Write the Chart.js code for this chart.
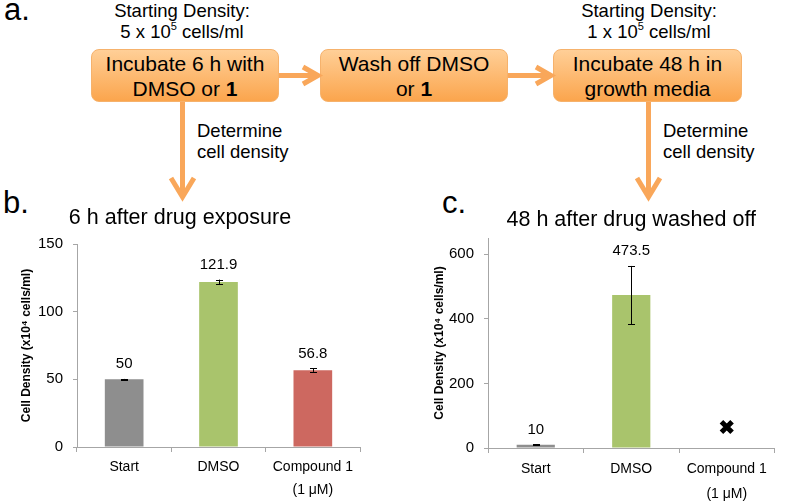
<!DOCTYPE html>
<html>
<head>
<meta charset="utf-8">
<script src="https://cdn.jsdelivr.net/npm/chart.js"></script>
<style>
    body { margin: 0; background: #fff; }
    #page { position: relative; width: 787px; height: 503px; overflow: hidden; font-family: 'Liberation Sans', Arial, sans-serif; color: #000; }
    .panel { position: absolute; font-size: 31px; line-height: 31px; }
    .note { position: absolute; font-size: 18.5px; line-height: 21px; white-space: nowrap; }
    .center { text-align: center; transform: translateX(-50%); }
    .box {
        position: absolute; top: 49px; height: 53px; box-sizing: border-box;
        border: 1px solid #f6b26c; border-radius: 8px;
        background: linear-gradient(#ffcf97, #fba54d);
        display: flex; align-items: center; justify-content: center; text-align: center;
        font-size: 21px; line-height: 25px; white-space: nowrap;
    }
    sup { font-size: 11px; vertical-align: 8px; line-height: 0; }
    canvas { position: absolute; }
</style>
</head>
<body>
<div id="page">
    <div class="panel" style="left:4px; top:-6px;">a.</div>
    <div class="panel" style="left:3px; top:187px;">b.</div>
    <div class="panel" style="left:442px; top:187px;">c.</div>

    <div class="note center" style="left:182px; top:0px;">Starting Density:<br>5 x 10<sup>5</sup> cells/ml</div>
    <div class="note center" style="left:649px; top:0px;">Starting Density:<br>1 x 10<sup>5</sup> cells/ml</div>

    <div class="box" style="left:91px; width:188px;"><div>Incubate 6 h with<br>DMSO or <b>1</b></div></div>
    <div class="box" style="left:320px; width:188px;"><div>Wash off DMSO<br>or <b>1</b></div></div>
    <div class="box" style="left:553px; width:189px;"><div>Incubate 48 h in<br>growth media</div></div>

    <div class="note" style="left:197px; top:120px;">Determine<br>cell density</div>
    <div class="note" style="left:663px; top:120px;">Determine<br>cell density</div>

    <svg width="787" height="503" style="position:absolute; left:0; top:0;">
        <g stroke="#f9a75a" stroke-width="5" fill="none">
            <line x1="279" y1="75.5" x2="317" y2="75.5"/>
            <polyline points="303,67 318,75.5 303,84"/>
            <line x1="508" y1="75.5" x2="550" y2="75.5"/>
            <polyline points="536,67 551,75.5 536,84"/>
            <line x1="182.5" y1="102" x2="182.5" y2="196"/>
            <polyline points="171,178 182.5,197 194,178"/>
            <line x1="648.5" y1="102" x2="648.5" y2="196"/>
            <polyline points="637,178 648.5,197 660,178"/>
        </g>
    </svg>

    <canvas id="chartB" width="414" height="307" style="left:0px; top:196px;"></canvas>
    <canvas id="chartC" width="387" height="307" style="left:400px; top:196px;"></canvas>
</div>
<script>
const categories = ['Start', 'DMSO', ['Compound 1', '(1 μM)']]

// panel b: 6 h after drug exposure
const densityB = [50, 121.9, 56.8]
const errorB = [0.3, 1.8, 1.3]
const labelsB = ['50', '121.9', '56.8']
const ticksB = [0, 50, 100, 150]

// panel c: 48 h after drug washed off (no cells left for compound 1)
const densityC = [10, 473.5, null]
const errorC = [1, 90, null]
const labelsC = ['10', '473.5', null]
const deadC = [null, null, 65]
const ticksC = [0, 200, 400, 600]

const barColors = ['#8e8e8e', '#a9c46c', '#cd6860']
const axisColor = '#a6a6a6'
const fontFamily = "'Liberation Sans', Arial, sans-serif"

Chart.defaults.font.family = fontFamily
Chart.defaults.color = '#000'

// error bars and value labels on top of each bar
const errorBars = {
    id: 'errorBars',
    afterDatasetsDraw(chart, args, opts) {
        const ctx = chart.ctx
        const y = chart.scales.y
        const values = chart.data.datasets[0].data
        const meta = chart.getDatasetMeta(0)
        ctx.save()
        ctx.strokeStyle = '#000'
        ctx.lineWidth = 1
        ctx.fillStyle = '#000'
        ctx.font = '15px ' + fontFamily
        ctx.textAlign = 'center'
        ctx.textBaseline = 'middle'
        meta.data.forEach((bar, i) => {
            const v = values[i]
            if (v == null) return
            const e = opts.errors[i] || 0
            const x = Math.round(bar.x) + 0.5
            const top = y.getPixelForValue(v + e)
            const bottom = y.getPixelForValue(v - e)
            ctx.beginPath()
            ctx.moveTo(x, top)
            ctx.lineTo(x, bottom)
            ctx.moveTo(x - 3.5, Math.round(top) + 0.5)
            ctx.lineTo(x + 3.5, Math.round(top) + 0.5)
            ctx.moveTo(x - 3.5, Math.round(bottom) + 0.5)
            ctx.lineTo(x + 3.5, Math.round(bottom) + 0.5)
            ctx.stroke()
            if (opts.labels[i]) ctx.fillText(opts.labels[i], bar.x, top - 15)
        })
        ctx.restore()
    }
}

function makeChart(id, cfg) {
    const ctx = document.getElementById(id).getContext('2d')
    return new Chart(ctx, {
        type: 'bar',
        data: {
            labels: categories,
            datasets: cfg.datasets
        },
        plugins: [errorBars],
        options: {
            responsive: false,
            animation: false,
            layout: { padding: { left: 0, right: cfg.padRight, top: 0, bottom: 0 } },
            scales: {
                x: {
                    grid: { display: true, drawOnChartArea: false, color: axisColor, tickLength: 5, offset: true },
                    border: { color: axisColor },
                    ticks: { font: { size: 14, lineHeight: cfg.labelLine }, padding: 4, color: '#000' },
                    afterFit: (s) => { s.height = cfg.xHeight }
                },
                y: {
                    min: 0,
                    max: cfg.max,
                    afterBuildTicks: (s) => { s.ticks = cfg.ticks.map(v => ({ value: v })) },
                    grid: { display: true, drawOnChartArea: false, color: axisColor, tickLength: 4 },
                    border: { color: axisColor },
                    ticks: { font: { size: 15 }, padding: 10, color: '#000' },
                    title: {
                        display: true,
                        text: 'Cell Density (x10⁴ cells/ml)',
                        font: { size: 12, weight: 'bold' },
                        padding: { top: cfg.yTitlePad, bottom: 0 },
                        color: '#000'
                    },
                    afterFit: (s) => { s.width = cfg.yWidth }
                }
            },
            plugins: {
                legend: { display: false },
                tooltip: { enabled: false },
                title: {
                    display: true,
                    text: cfg.title,
                    fullSize: cfg.titleFull,
                    font: { size: 21.5, weight: 'normal' },
                    color: '#000',
                    padding: cfg.titlePad
                },
                errorBars: { errors: cfg.errors, labels: cfg.labels }
            }
        }
    })
}

makeChart('chartB', {
    title: '6 h after drug exposure',
    titleFull: true,
    titlePad: { top: 9.1, bottom: 13.1 },
    max: 150,
    ticks: ticksB,
    errors: errorB,
    labels: labelsB,
    padRight: 54,
    yWidth: 77,
    yTitlePad: 19.8,
    xHeight: 56,
    labelLine: 23 / 14,
    datasets: [{
        data: densityB,
        backgroundColor: barColors,
        borderWidth: 0,
        categoryPercentage: 1,
        barPercentage: 0.41
    }]
})

makeChart('chartC', {
    title: '48 h after drug washed off',
    titleFull: false,
    titlePad: { top: 11.1, bottom: 5.1 },
    max: 650,
    ticks: ticksC,
    errors: errorC,
    labels: labelsC,
    padRight: 4,
    yWidth: 88,
    yTitlePad: 32.8,
    xHeight: 55,
    labelLine: 25 / 14,
    datasets: [{
        data: densityC,
        backgroundColor: barColors,
        borderWidth: 0,
        categoryPercentage: 1,
        barPercentage: 0.4
    }, {
        type: 'line',
        data: deadC,
        showLine: false,
        pointStyle: 'crossRot',
        pointRadius: 7.5,
        borderWidth: 5,
        borderColor: '#000',
        backgroundColor: '#000'
    }]
})
</script>
</body>
</html>
